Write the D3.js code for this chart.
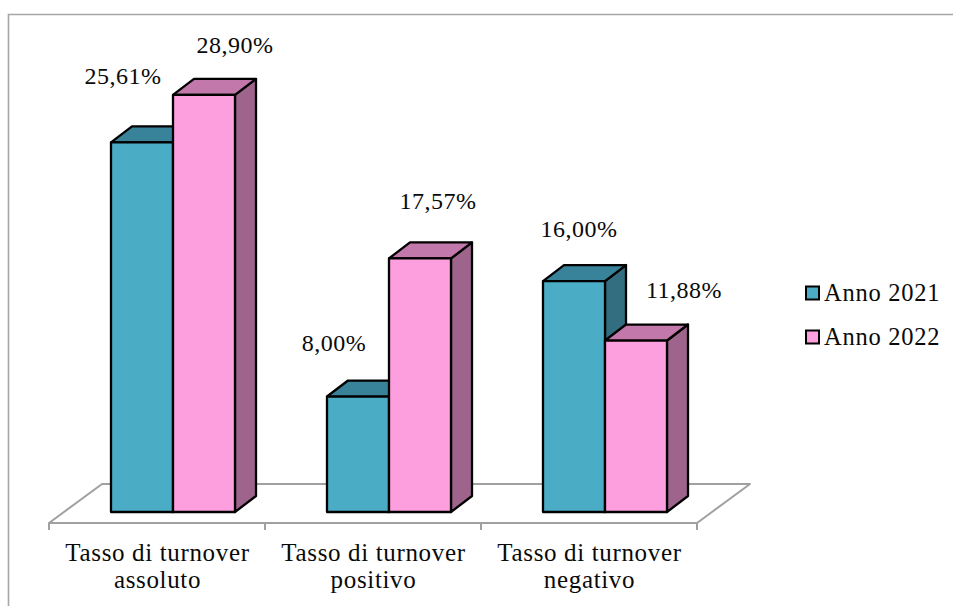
<!DOCTYPE html>
<html><head><meta charset="utf-8">
<script src="https://cdnjs.cloudflare.com/ajax/libs/d3/7.8.5/d3.min.js"></script>
<style>
html,body{margin:0;padding:0;background:#fff}
svg{display:block}
text{font-family:"Liberation Serif",serif;font-size:25px;letter-spacing:.65px;fill:#0a0a0a}
text.pct{font-size:24px;letter-spacing:.5px}
text.leg{font-size:24.5px;letter-spacing:.75px}
</style></head><body>
<script>
const categories = [["Tasso di turnover","assoluto"],["Tasso di turnover","positivo"],["Tasso di turnover","negativo"]];
const seriesNames = ["Anno 2021","Anno 2022"];
const values2021 = [25.61, 8.00, 16.00];
const values2022 = [28.90, 17.57, 11.88];
const seriesValues = [values2021, values2022];
const frontColors = ["#4bacc6","#fd9ede"];
const topColors = ["#38829a","#c278ab"];
const sideColors = ["#326d80","#9f648c"];
// label anchors, relative to the bar's top-front-centre, per series then category
const labelDx = [[-19,-24,5],[31,18,48]];
const labelDy = [[-58,-46,-44],[-42,-49,-43]];

const W=953,H=606;
const svg=d3.select("body").append("svg").attr("width",W).attr("height",H);
const fmt=v=>v.toFixed(2).replace(".",",")+"%";
const gray="#a0a0a0";
const dx=21,dy=-16;

const x=d3.scaleBand().domain(d3.range(categories.length)).range([49,697]);
const inner=d3.scaleBand().domain(d3.range(seriesNames.length)).range([62,186]);
const y=d3.scaleLinear().domain([0,30]).range([512,79]);
const floorFront=523,floorBack=484;

// frame
svg.append("path").attr("d",`M8.5,${H}V14.5H${W}`).attr("fill","none").attr("stroke","#a6a6a6").attr("stroke-width",1.6);

// floor
const x0=x.range()[0],x1=x.range()[1],fd=53;
svg.append("path").attr("d",`M${x0},${floorFront}L${x0+fd},${floorBack}H${x1+fd}L${x1},${floorFront}Z`)
  .attr("fill","#fff").attr("stroke",gray).attr("stroke-width",2).attr("stroke-linejoin","round");
const ticks=[...x.domain().map(i=>x(i)),x1];
svg.selectAll("line.tick").data(ticks).join("line").attr("class","tick")
  .attr("x1",d=>d).attr("x2",d=>d).attr("y1",floorFront).attr("y2",floorFront+7)
  .attr("stroke",gray).attr("stroke-width",2);

// bars
categories.forEach((c,i)=>{
  seriesNames.forEach((s,j)=>{
    const v=seriesValues[j][i];
    const a=x(i)+inner(j),b=a+inner.bandwidth(),t=y(v),z=y(0);
    const g=svg.append("g").attr("stroke","#000").attr("stroke-width",2.3).attr("stroke-linejoin","round");
    g.append("path").attr("fill",sideColors[j]).attr("d",`M${b},${t}L${b+dx},${t+dy}V${z+dy}L${b},${z}Z`);
    g.append("path").attr("fill",topColors[j]).attr("d",`M${a},${t}L${a+dx},${t+dy}H${b+dx}L${b},${t}Z`);
    g.append("rect").attr("fill",frontColors[j]).attr("x",a).attr("y",t).attr("width",b-a).attr("height",z-t);
  });
});

// data labels
categories.forEach((c,i)=>{
  seriesNames.forEach((s,j)=>{
    const v=seriesValues[j][i];
    svg.append("text").attr("class","pct").attr("text-anchor","middle")
      .attr("x",x(i)+inner(j)+inner.bandwidth()/2+labelDx[j][i])
      .attr("y",y(v)+labelDy[j][i]).text(fmt(v));
  });
});

// category labels
categories.forEach((c,i)=>{
  c.forEach((line,k)=>{
    svg.append("text").attr("text-anchor","middle")
      .attr("x",x(i)+x.bandwidth()/2+0.5).attr("y",561+k*27).text(line);
  });
});

// legend
seriesNames.forEach((s,j)=>{
  const ly=293+j*44;
  svg.append("rect").attr("x",806).attr("y",ly-6.5).attr("width",13).attr("height",13)
    .attr("fill",frontColors[j]).attr("stroke","#000").attr("stroke-width",2);
  svg.append("text").attr("class","leg").attr("x",824).attr("y",ly+8).text(s);
});
</script>
</body></html>
